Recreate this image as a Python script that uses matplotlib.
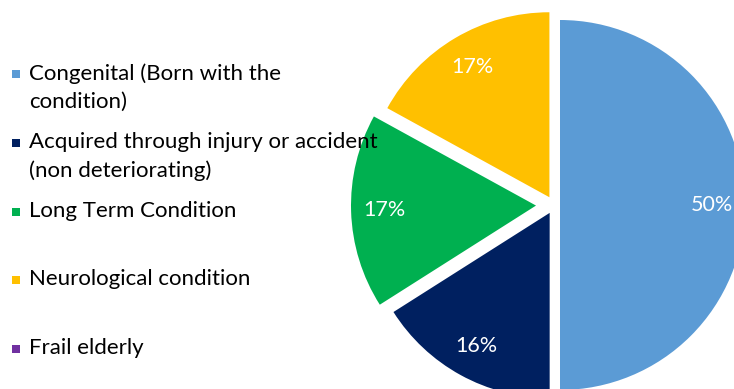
import matplotlib.pyplot as plt
from matplotlib.patches import Rectangle

W, H = 734, 389

categories = ['Congenital (Born with the\ncondition)',
              'Acquired through injury or accident\n(non deteriorating)',
              'Long Term Condition',
              'Neurological condition',
              'Frail elderly']
shares = [50, 16, 17, 17, 0]
pct_labels = ['50%', '16%', '17%', '17%', '']
colors = ['#5B9BD5', '#002060', '#00B050', '#FFC000', '#7030A0']
# offsets in pixels (pie explode is in data units)
explode = [6, 9, 18, 9, 0]

FONT = 'Lato'

fig = plt.figure(figsize=(W / 100, H / 100), dpi=100)
ax = fig.add_axes([0, 0, 1, 1])

# pie drawn in pixel units so the axes maps 1:1 onto the figure
wedges, texts, autotexts = ax.pie(
    shares, colors=colors, explode=explode, startangle=90, counterclock=False,
    center=(554, H - 205), radius=185, labels=None,
    autopct='%d%%', pctdistance=0.82,
    textprops=dict(color='white', fontsize=15.5, family=FONT),
    wedgeprops=dict(linewidth=0), frame=True)
for t, s in zip(autotexts, pct_labels):
    t.set_text(s)

ax.set_xlim(0, W)
ax.set_ylim(0, H)
ax.set_aspect('equal')
ax.axis('off')

# legend: one slot per entry, first line aligned to the marker
top = 74
step = 68.8
for i, (lab, c) in enumerate(zip(categories, colors)):
    y = top + step * i
    ax.add_patch(Rectangle((12, H - y - 4), 8, 8, color=c, lw=0))
    ax.text(29, H - y + 11, lab, va='top', ha='left', fontsize=16, family=FONT,
            color='black', linespacing=1.5)

fig.savefig('out.png', dpi=100)
